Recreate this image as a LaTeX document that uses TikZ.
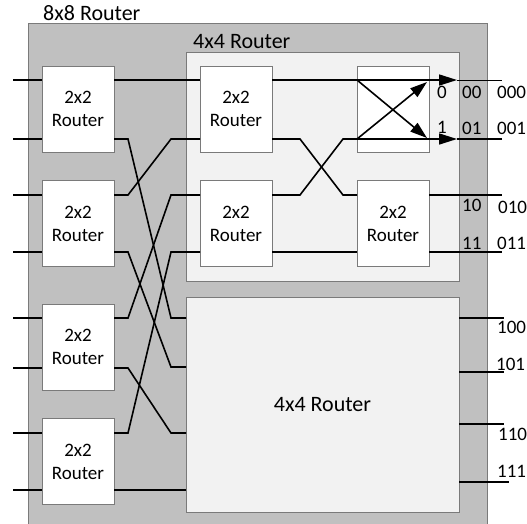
\documentclass[tikz,border=0pt]{standalone}
\usepackage{fontspec}
\setmainfont{Carlito}
\usetikzlibrary{arrows.meta,calc}
\definecolor{outerfill}{HTML}{C0C0C0}
\definecolor{innerfill}{HTML}{F2F2F2}
\definecolor{edge}{HTML}{7A7A7A}
\begin{document}
\begin{tikzpicture}[x=1pt,y=-1pt,
  wire/.style={line width=1.6pt},
  thinwire/.style={line width=0.9pt},
  tip/.style={-{Triangle[length=18pt,width=11pt]}},
  dtip/.style={-{Triangle[length=17pt,width=11pt]}},
  box/.style={draw=edge,line width=0.8pt,inner sep=0pt,outer sep=0pt},
  router/.style={box,fill=white,minimum width=72pt,minimum height=86pt,align=center,
     font=\fontsize{19}{23}\selectfont},
  bigbox/.style={box,fill=innerfill,minimum width=273pt},
  lbl/.style={inner sep=0pt,anchor=base west,font=\fontsize{19}{22}\selectfont},
  title/.style={inner sep=0pt,anchor=base west,font=\fontsize{22}{26}\selectfont}]
\useasboundingbox (0,0) rectangle (527,523);
\fill[white] (0,0) rectangle (527,523);
% outer 8x8
\node[box,fill=outerfill,minimum width=459pt,minimum height=510pt] (R8) at (257.5,278) {};
\node[title] (t8) at (43,20) {8x8 Router};
% 4x4 routers
\node[bigbox,minimum height=229pt] (T4) at (322.5,166.5) {};
\node[title] (t4) at (193,48) {4x4 Router};
\node[bigbox,minimum height=215pt,font=\fontsize{22}{26}\selectfont] (B4) at (322.5,404.5) {4x4 Router};
% first stage
\node[router] (r1) at (78,109) {2x2\\Router};
\node[router] (r2) at (78,223.5) {2x2\\Router};
\node[router] (r3) at (78,347) {2x2\\Router};
\node[router] (r4) at (78,461.5) {2x2\\Router};
% second stage (top 4x4)
\node[router] (ra) at (236,109) {2x2\\Router};
\node[router] (rb) at (236,223.5) {2x2\\Router};
\node[router] (xb) at (393,109) {};
\node[router] (rc) at (393,223.5) {2x2\\Router};
% y levels
\foreach \n/\v in {a/80,b/139,c/195,d/252,e/318,f/367,g/433,h/490,i/368,
                   p/318,q/372,r/424,s/482}{\coordinate (y\n) at (0,\v);}
\coordinate (xin) at (13,0);
\coordinate (xl) at (128,0);
\coordinate (xr) at (171,0);
\coordinate (xl2) at (300,0);
\coordinate (xr2) at (343,0);
\coordinate (xarr) at (457,0);
\coordinate (xend) at (502,0);
\coordinate (xend2) at (504,0);
% inputs
\foreach \r/\u/\w in {r1/a/b,r2/c/d,r3/e/i,r4/g/h}{
  \draw[wire] (xin|-y\u) -- (\r.west|-y\u);
  \draw[wire] (xin|-y\w) -- (\r.west|-y\w);
}
% first stage to second stage
\draw[wire] (r1.east|-ya) -- (ra.west|-ya);
\draw[wire] (r1.east|-yb) -- (xl|-yb) -- (xr|-ye) -- (B4.west|-ye);
\draw[wire] (r2.east|-yc) -- (xl|-yc) -- (xr|-yb) -- (ra.west|-yb);
\draw[wire] (r2.east|-yd) -- (xl|-yd) -- (xr|-yf) -- (B4.west|-yf);
\draw[wire] (r3.east|-ye) -- (xl|-ye) -- (xr|-yc) -- (rb.west|-yc);
\draw[wire] (r3.east|-yi) -- (xl|-yi) -- (xr|-yg) -- (B4.west|-yg);
\draw[wire] (r4.east|-yg) -- (xl|-yg) -- (xr|-yd) -- (rb.west|-yd);
\draw[wire] (r4.east|-yh) -- (B4.west|-yh);
% inside top 4x4
\draw[wire,tip] (ra.east|-ya) -- (xarr|-ya);
\draw[thinwire] (xarr|-ya) -- (xend|-ya);
\draw[wire] (ra.east|-yb) -- (xl2|-yb) -- (xr2|-yc) -- (rc.west|-yc);
\draw[wire,tip] (rb.east|-yc) -- (xl2|-yc) -- (xr2|-yb) -- (xarr|-yb);
\draw[wire] (xarr|-yb) -- (xend|-yb);
\draw[wire] (rb.east|-yd) -- (rc.west|-yd);
\draw[wire,dtip] (xb.west|-ya) -- ($(xb.east|-yb)+(-2,-1)$);
\draw[wire,dtip] (xb.west|-yb) -- ($(xb.east|-ya)+(-2,2)$);
\draw[wire] (rc.east|-yc) -- (xend|-yc);
\draw[wire] (rc.east|-yd) -- (xend|-yd);
% bottom 4x4 outputs
\draw[wire] (B4.east|-yp) -- (xend2|-yp);
\draw[wire] (B4.east|-yq) -- (xend2|-yq);
\draw[wire] (B4.east|-yr) -- (xend2|-yr);
\draw[wire] (B4.east|-ys) -- ($(xend2|-ys)+(5,0)$);
% labels
\node[lbl] (l0) at (437,98) {0};
\node[lbl] (l1) at (437,133) {1};
\node[lbl] (l00) at (462,98) {00};
\node[lbl] (l01) at (462,134) {01};
\node[lbl] (l10) at (462,211) {10};
\node[lbl] (l11) at (462,249) {11};
\node[lbl] (l000) at (497,98) {000};
\node[lbl] (l001) at (497,134) {001};
\node[lbl] (l010) at (498,213) {010};
\node[lbl] (l011) at (497,249) {011};
\node[lbl] (l100) at (497,333) {100};
\node[lbl] (l101) at (496,370) {101};
\node[lbl] (l110) at (498,440) {110};
\node[lbl] (l111) at (497,477) {111};
\end{tikzpicture}
\end{document}
